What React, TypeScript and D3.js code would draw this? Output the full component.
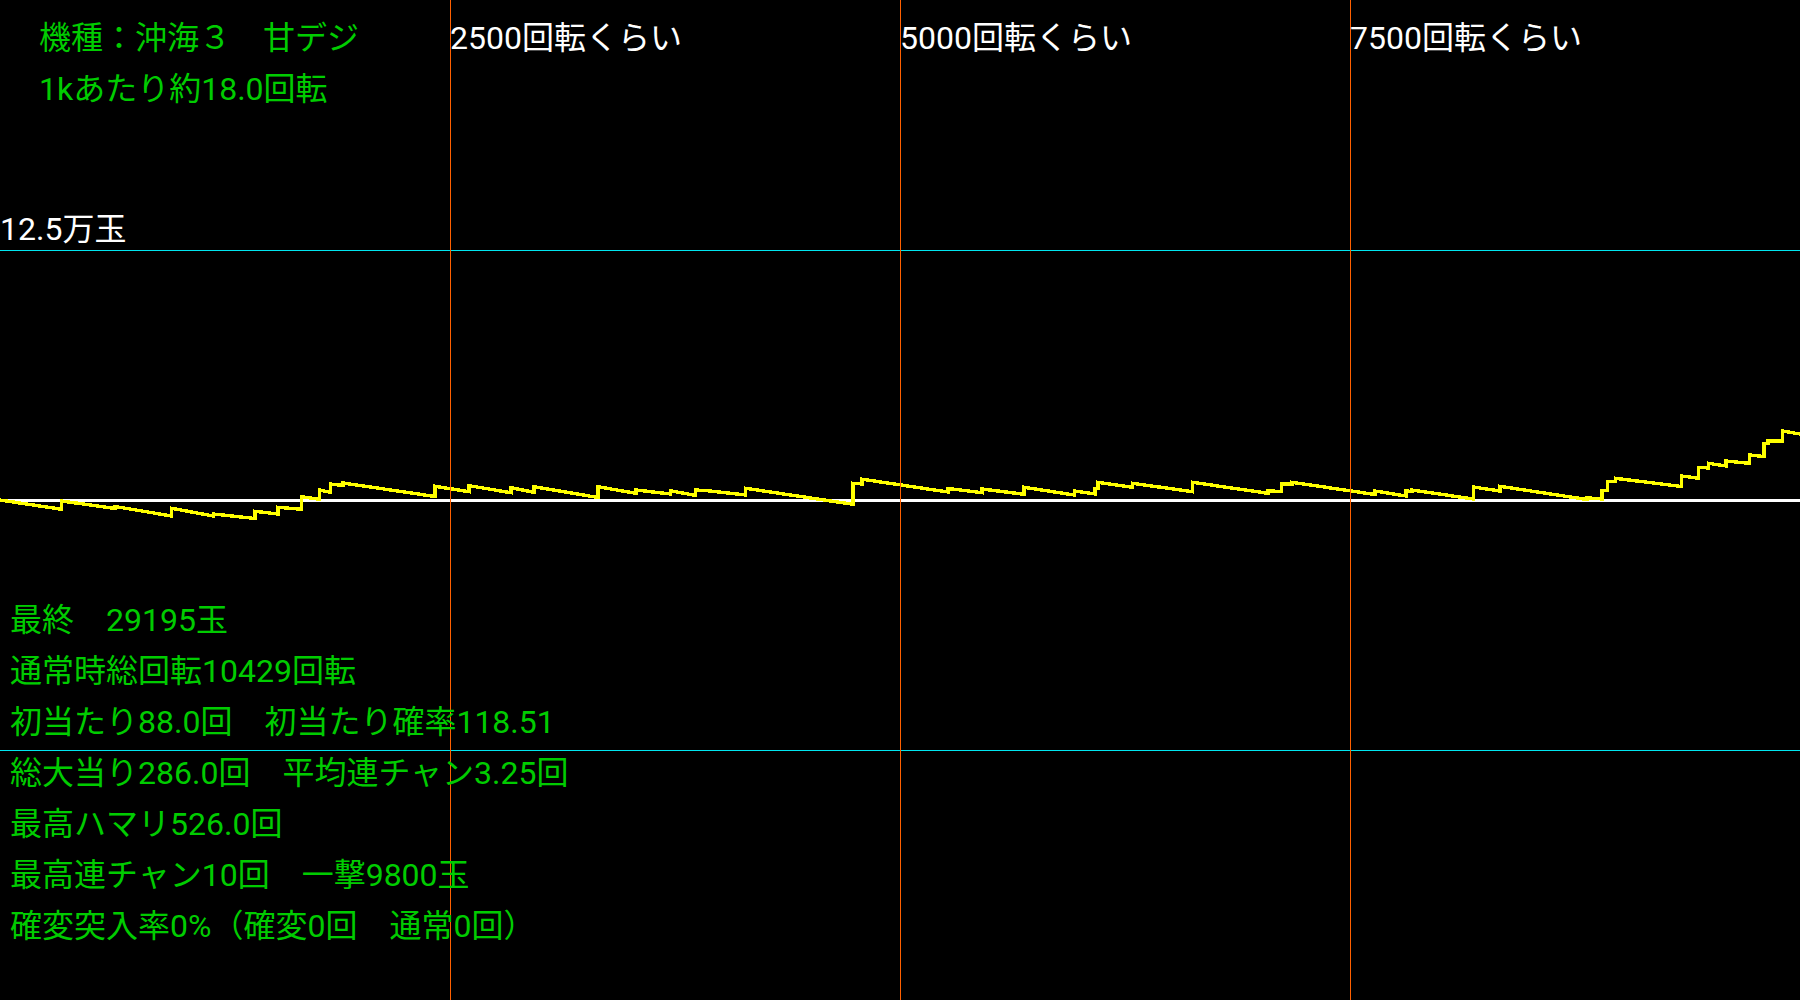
import React from "react";
import * as d3 from "d3";

// ---- data (rotations in normal play, ball balance) ----
const rotations = [
  0, 343, 343, 639, 639, 954, 954, 1185, 1185, 1417, 1417, 1544, 1544, 1676, 1676,
  1775, 1775, 1836, 1836, 1906, 1906, 2417, 2417, 2606, 2606, 2839, 2839, 2967, 2967,
  3322, 3322, 3533, 3533, 3725, 3725, 3864, 3864, 3917, 4142, 4142, 4739, 4739, 4789,
  4789, 5267, 5267, 5456, 5456, 5689, 5689, 5969, 5969, 6083, 6083, 6100, 6100, 6292,
  6292, 6625, 6625, 7044, 7044, 7121, 7121, 7178, 7178, 7639, 7639, 7811, 7811, 7844,
  7844, 8185, 8185, 8333, 8333, 8817, 8817, 8900, 8900, 8931, 8931, 8974, 8974, 9343,
  9343, 9436, 9436, 9491, 9491, 9589, 9589, 9719, 9719, 9800, 9800, 9822, 9822, 9902,
  9902, 10000,
];
const balls = [
  0, -4650, -500, -4250, -3250, -8000, -4150, -8000, -7000, -9250, -5650, -7000, -3650, -4650, 1650,
  350, 5000, 3850, 8000, 7250, 8500, 1750, 6850, 4150, 7150, 3650, 6150, 3850, 6650,
  1250, 6650, 3350, 5000, 3000, 4650, 2250, 5000, 4750, 2500, 5850, -2150, 8350, 8000,
  10400, 4000, 5750, 3650, 5500, 2850, 6350, 2500, 4500, 3000, 5850, 5850, 8850, 6350,
  8350, 4150, 8850, 3350, 4650, 4150, 8000, 8000, 8850, 2750, 4500, 2000, 4500, 4250,
  5000, 500, 6500, 4500, 6850, 250, 1100, 500, 4850, 4850, 9150, 9150, 10850, 6750,
  12000, 10850, 16350, 16000, 18350, 17000, 19500, 18350, 22500, 21750, 28350, 28350, 29500, 29500,
  34500, 33000,
];

const rotationGuides = [2500, 5000, 7500];
const rotationGuideLabel = "回転くらい";
const ballGuides = [125000, -125000];
const ballGuideLabel = "12.5万玉";

const titleLines = ["機種：沖海３　甘デジ", "1kあたり約18.0回転"];
const statLines = [
  "最終　29195玉",
  "通常時総回転10429回転",
  "初当たり88.0回　初当たり確率118.51",
  "総大当り286.0回　平均連チャン3.25回",
  "最高ハマリ526.0回",
  "最高連チャン10回　一撃9800玉",
  "確変突入率0%（確変0回　通常0回）",
];

const W = 1800;
const H = 1000;
const FONT = "Roboto, 'Noto Sans CJK JP', sans-serif";
const GREEN = "#00CC00";

export default function App() {
  const x = d3.scaleLinear().domain([0, 10000]).range([0, W]);
  const y = d3.scaleLinear().domain([-250000, 250000]).range([H, 0]);
  const pts = rotations.map((r, i) => [r, balls[i]] as [number, number]);
  const line = d3
    .line<[number, number]>()
    .x((d) => x(d[0]))
    .y((d) => y(d[1]));

  return (
    <div style={{ position: "fixed", left: 0, top: 0, width: W, height: H, background: "#000" }}>
      <style>{"body{margin:0;background:#000;overflow:hidden}"}</style>
      <svg width={W} height={H} style={{ display: "block" }} fontFamily={FONT}>
        <defs>
          <clipPath id="plot">
            <rect x={0} y={0} width={W} height={H} />
          </clipPath>
        </defs>
        <rect x={0} y={0} width={W} height={H} fill="#000" />
        {ballGuides.map((b) => (
          <line
            key={b}
            x1={0}
            x2={W}
            y1={Math.round(y(b)) + 0.5}
            y2={Math.round(y(b)) + 0.5}
            stroke="#00E5EE"
            strokeWidth={1}
            shapeRendering="crispEdges"
          />
        ))}
        <line
          x1={0}
          x2={W}
          y1={y(0)}
          y2={y(0)}
          stroke="#FFFFFF"
          strokeWidth={3}
          shapeRendering="crispEdges"
        />
        <path
          d={line(pts) || ""}
          fill="none"
          stroke="#FFFF00"
          strokeWidth={3.4}
          strokeLinejoin="miter"
          shapeRendering="crispEdges"
          clipPath="url(#plot)"
        />
        {rotationGuides.map((r) => (
          <line
            key={r}
            x1={Math.round(x(r)) + 0.5}
            x2={Math.round(x(r)) + 0.5}
            y1={0}
            y2={H}
            stroke="#FF6000"
            strokeWidth={1}
            shapeRendering="crispEdges"
          />
        ))}
        {rotationGuides.map((r) => (
          <text key={"t" + r} x={x(r)} y={49} fill="#FFFFFF" fontSize={32}>
            {r + rotationGuideLabel}
          </text>
        ))}
        <text x={0} y={y(ballGuides[0]) - 10} fill="#FFFFFF" fontSize={32}>
          {ballGuideLabel}
        </text>
        {titleLines.map((t, i) => (
          <text key={t} x={39} y={49 + i * 51} fill={GREEN} fontSize={32}>
            {t}
          </text>
        ))}
        {statLines.map((t, i) => (
          <text key={t} x={10} y={631 + i * 51} fill={GREEN} fontSize={32}>
            {t}
          </text>
        ))}
      </svg>
    </div>
  );
}
